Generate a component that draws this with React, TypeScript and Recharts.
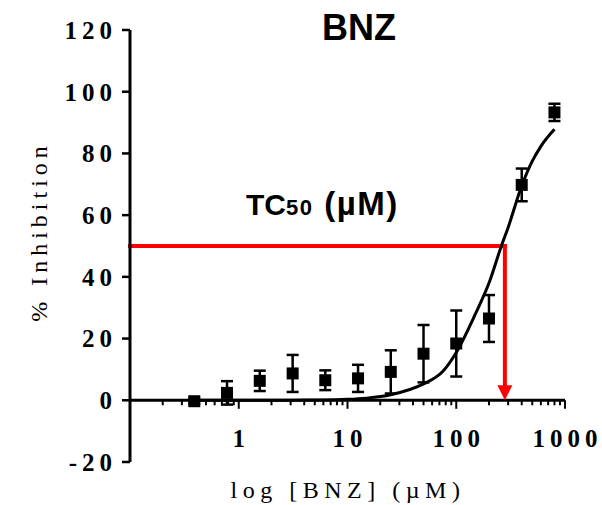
import {
  ComposedChart,
  ErrorBar,
  Line,
  ReferenceDot,
  ReferenceLine,
  Scatter,
  XAxis,
  YAxis,
} from 'recharts'

// measured points: BNZ concentration (µM), mean % inhibition, SD
const concentrations = [0.39, 0.78, 1.56, 3.13, 6.25, 12.5, 25, 50, 100, 200, 400, 800]
const meanInhibition = [-0.3, 2.4, 6.3, 8.7, 6.5, 7.1, 9.2, 15.1, 18.4, 26.5, 69.8, 93.3]
const sdInhibition = [0.8, 3.8, 3.3, 6.0, 3.2, 4.4, 7.0, 9.3, 10.7, 7.6, 5.3, 2.8]

// fitted curve
const curveX = [0.39, 1, 3, 6, 10, 15, 25, 50, 75, 100, 150, 200, 260, 300, 400, 500, 600, 800]
const curveY = [0, 0, 0.05, 0.1, 0.3, 0.7, 1.8, 5.3, 9.3, 15.5, 28, 38, 50, 56, 69.5, 77.5, 82.3, 87.8]

const TC50 = 280

const yTicks = [-20, 0, 20, 40, 60, 80, 100, 120]
const xMajorTicks = [1, 10, 100, 1000]
const xMinorTicks = [
  0.2, 0.3, 0.4, 0.5, 0.6, 0.7, 0.8, 0.9,
  2, 3, 4, 5, 6, 7, 8, 9,
  20, 30, 40, 50, 60, 70, 80, 90,
  200, 300, 400, 500, 600, 700, 800, 900,
]

const pointData = concentrations.map((x, i) => ({ x, y: meanInhibition[i], sd: sdInhibition[i] }))
const curveData = curveX.map((x, i) => ({ x, y: curveY[i] }))

const SERIF = '"Liberation Serif", "Times New Roman", serif'
const SANS = '"Liberation Sans", Arial, sans-serif'
const RED = '#ff0000'
const TICK_FONT = { fontFamily: SERIF, fontWeight: 700, fontSize: 25, letterSpacing: 5 }

function XTick(props: any) {
  const { cx, cy, len, label } = props
  return (
    <g>
      <line x1={cx} y1={cy} x2={cx} y2={cy + len} stroke="#000" strokeWidth={2} />
      {label != null && (
        <text x={cx + 2.5} y={cy + 47} textAnchor="middle" fill="#000" style={TICK_FONT}>
          {label}
        </text>
      )}
    </g>
  )
}

function ArrowDown(props: any) {
  const { x1, y1, x2, y2 } = props
  const head = 15
  return (
    <g>
      <line x1={x1} y1={y1 - 2} x2={x2} y2={y2 - head + 1} stroke={RED} strokeWidth={4} />
      <polygon
        points={`${x2 - head / 2},${y2 - head} ${x2 + head / 2},${y2 - head} ${x2},${y2}`}
        fill={RED}
      />
    </g>
  )
}

function Square(props: any) {
  const { cx, cy } = props
  return <rect x={cx - 6} y={cy - 6} width={12} height={12} fill="#000" />
}

export default function App() {
  return (
    <div style={{ position: 'absolute', left: 0, top: 0, width: 602, height: 505, background: '#fff' }}>
      <ComposedChart width={602} height={505} margin={{ top: 30, right: 37, bottom: 43, left: 0 }}>
        <XAxis dataKey="x" type="number" scale="log" domain={[0.1, 1000]} allowDataOverflow hide />
        <YAxis
          type="number"
          domain={[-20, 120]}
          ticks={yTicks}
          interval={0}
          width={130}
          axisLine={{ stroke: '#000', strokeWidth: 3 }}
          tickLine={{ stroke: '#000', strokeWidth: 2.5 }}
          tickSize={8}
          tickMargin={5}
          tick={{ fill: '#000', ...TICK_FONT }}
        />
        <ReferenceLine
          segment={[{ x: 0.1, y: 0 }, { x: 1000, y: 0 }]}
          stroke="#000"
          strokeWidth={3}
        />
        {xMinorTicks.map((v) => (
          <ReferenceDot key={`m${v}`} x={v} y={0} r={0} shape={(p: any) => <XTick {...p} len={5} />} />
        ))}
        {xMajorTicks.map((v) => (
          <ReferenceDot
            key={`M${v}`}
            x={v}
            y={0}
            r={0}
            shape={(p: any) => <XTick {...p} len={8.5} label={String(v)} />}
          />
        ))}
        <ReferenceLine
          segment={[{ x: 0.1, y: 50 }, { x: TC50, y: 50 }]}
          stroke={RED}
          strokeWidth={4}
          strokeLinecap="square"
        />
        <ReferenceLine segment={[{ x: TC50, y: 50 }, { x: TC50, y: 0 }]} shape={ArrowDown} />
        <Line
          data={curveData}
          dataKey="y"
          type="monotone"
          stroke="#000"
          strokeWidth={3}
          dot={false}
          activeDot={false}
          isAnimationActive={false}
        />
        <Scatter data={pointData} dataKey="y" shape={Square} isAnimationActive={false}>
          <ErrorBar dataKey="sd" direction="y" width={6} stroke="#000" strokeWidth={2.5} isAnimationActive={false} />
        </Scatter>
      </ComposedChart>
      <svg width={602} height={505} style={{ position: 'absolute', left: 0, top: 0, pointerEvents: 'none' }}>
        <text x={359} y={40} textAnchor="middle" fontFamily={SANS} fontWeight={700} fontSize={36} fill="#000">
          BNZ
        </text>
        <text x={246} y={215} fontFamily={SANS} fontWeight={700} fontSize={30} fill="#000">
          TC<tspan fontSize={22} letterSpacing={1.5}>50</tspan>
          <tspan fontSize={33} letterSpacing={1.5}> (µM)</tspan>
        </text>
        <text
          x={47}
          y={234}
          dx={2.5}
          transform="rotate(-90, 47, 234)"
          textAnchor="middle"
          fontFamily={SERIF}
          fontSize={24}
          letterSpacing={5}
          fill="#000"
        >
          % Inhibition
        </text>
        <text x={348} y={498} textAnchor="middle" fontFamily={SERIF} fontSize={24} letterSpacing={5.5} fill="#000">
          log [BNZ] (µM)
        </text>
      </svg>
    </div>
  )
}
